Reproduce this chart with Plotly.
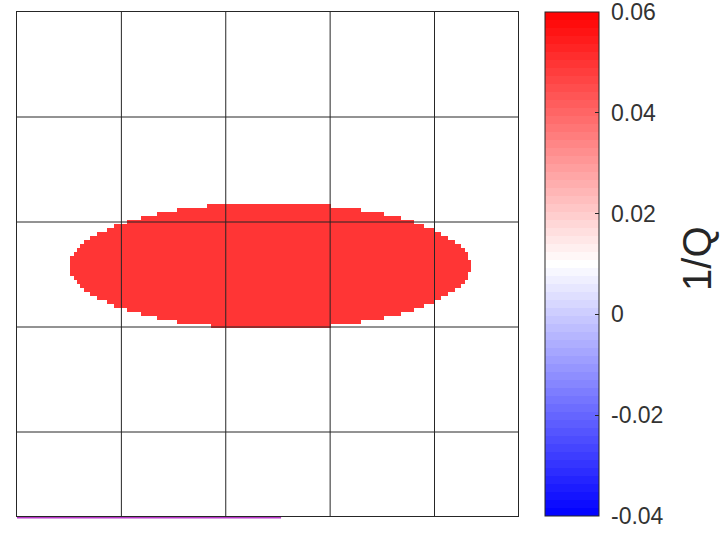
import numpy as np
import plotly.graph_objects as go

# Domain / grid (grid every 10 units across a 48-unit box)
x_extent = 48.0
y_extent = 48.0
n_cols = 150
n_rows = 126
grid_ticks = [10, 20, 30, 40]

# Ellipse anomaly parameters
ellipse_cx = 24.24
ellipse_cy = 24.19
ellipse_a = 19.16
ellipse_b = 6.0
background_value = 0.01
ellipse_value = 0.05

# Colour bar
cmin, cmax = -0.04, 0.06
cbar_ticks = [-0.04, -0.02, 0, 0.02, 0.04, 0.06]
cbar_labels = ["-0.04", "-0.02", "0", "0.02", "0.04", "0.06"]
cbar_title = "1/Q"

# Purple line along the bottom edge
bottom_line_x = [0, 25.3]

dx = x_extent / n_cols
dy = y_extent / n_rows
xs = (np.arange(n_cols) + 0.5) * dx
ys = (np.arange(n_rows) + 0.5) * dy
X, Y = np.meshgrid(xs, ys)
inside = ((X - ellipse_cx) / ellipse_a) ** 2 + ((Y - ellipse_cy) / ellipse_b) ** 2 <= 1
Z = np.where(inside, ellipse_value, background_value)

# stepped blue-white-red colormap (63 bands, centre band white)
nb = 63
def cmap(t):
    if t <= 0.5:
        f = t / 0.5
        return (int(round(255 * f)), int(round(255 * f)), 255)
    f = (t - 0.5) / 0.5
    return (255, int(round(255 * (1 - f))), int(round(255 * (1 - f))))
colorscale = []
for k in range(nb):
    col = "rgb(%d,%d,%d)" % cmap((k + 0.5) / nb)
    colorscale.append([k / nb, col])
    colorscale.append([(k + 1) / nb, col])

eps = 1e-9
pad = "\u00a0"
fig = go.Figure()
fig.add_trace(go.Heatmap(
    x=xs, y=ys, z=Z, zmin=cmin - eps, zmax=cmax + eps, colorscale=colorscale,
    showscale=True,
    colorbar=dict(
        x=545 / 720, xanchor="left", xref="container",
        y=0.5, yanchor="middle", yref="paper",
        len=1.0, lenmode="fraction",
        thickness=54, thicknessmode="pixels",
        outlinecolor="#262626", outlinewidth=1,
        tickvals=cbar_ticks, ticktext=[pad + t for t in cbar_labels],
        ticks="inside", ticklen=4, tickcolor="#262626",
        ticklabeloverflow="allow",
        tickfont=dict(family="Liberation Sans, Arial", size=23, color="#333333"),
        xpad=0, ypad=0,
    ),
    hoverinfo="skip",
))

shapes = []
for t in grid_ticks:
    shapes.append(dict(type="line", xref="x", yref="y", x0=t, x1=t, y0=0, y1=y_extent,
                       line=dict(color="#262626", width=1), layer="above"))
    shapes.append(dict(type="line", xref="x", yref="y", x0=0, x1=x_extent, y0=t, y1=t,
                       line=dict(color="#262626", width=1), layer="above"))
shapes.append(dict(type="line", xref="x", yref="paper", x0=bottom_line_x[0], x1=bottom_line_x[1],
                   y0=-0.0035, y1=-0.0035, line=dict(color="#b838c8", width=1.5), layer="above"))

axis_common = dict(
    showticklabels=False, ticks="", showgrid=False,
    zeroline=False, showline=True, linecolor="#262626", linewidth=1, mirror=True,
)
fig.update_layout(
    width=720, height=533,
    margin=dict(l=17, r=202, t=12, b=17),
    paper_bgcolor="white", plot_bgcolor="white",
    xaxis=dict(range=[0, x_extent], **axis_common),
    yaxis=dict(range=[y_extent, 0], **axis_common),
    shapes=shapes,
    annotations=[dict(text=cbar_title, xref="paper", yref="paper", x=(697 - 17) / 501, y=0.51,
                      xanchor="center", yanchor="middle", showarrow=False, textangle=-90,
                      font=dict(family="Liberation Sans, Arial", size=40, color="#262626"))],
    showlegend=False,
)
fig.write_html("out.html")
